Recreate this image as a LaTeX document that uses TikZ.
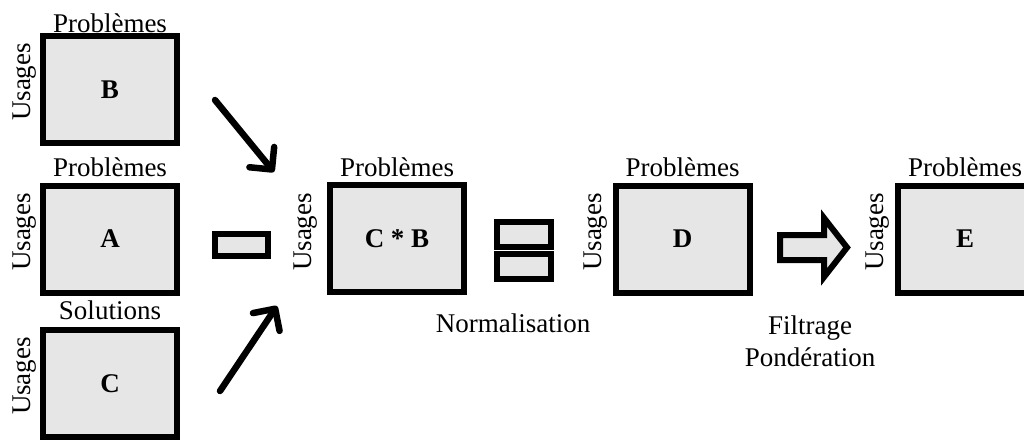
\documentclass[tikz,border=0pt]{standalone}
\usepackage{fontspec}
\setmainfont{Liberation Serif}
\usetikzlibrary{arrows.meta}
\definecolor{boxgray}{RGB}{230,230,230}
\tikzset{
  mbox/.style={draw=black, fill=boxgray, line width=6pt, inner sep=0pt, outer sep=0pt,
    minimum width=134pt, minimum height=107pt, font=\fontsize{27}{30}\selectfont\bfseries},
  sbox/.style={draw=black, fill=boxgray, line width=6pt, inner sep=0pt, outer sep=0pt},
  lbl/.style={inner sep=0pt, font=\fontsize{27}{32}\selectfont},
  usg/.style={lbl, rotate=90},
  thinarrow/.style={line width=6.5pt, line cap=round, -{Straight Barb[length=16pt, width=32pt, line cap=round, line join=round]}},
}
\begin{document}
\begin{tikzpicture}[x=1pt,y=-1pt]
\useasboundingbox (0,0) rectangle (1024,439);
\clip (0,0) rectangle (1024,439);
% left column
\node[mbox] (B) at (110,89.5) {B};
\node[lbl, anchor=base] (pB) at (110,32) {Problèmes};
\node[usg] (uB) at (25,82) {Usages};
\node[mbox] (A) at (110,239) {A};
\node[lbl, anchor=base] (pA) at (110,176) {Problèmes};
\node[usg] (uA) at (25,232) {Usages};
\node[mbox] (C) at (110,383.5) {C};
\node[lbl, anchor=base] (sC) at (110,319) {Solutions};
\node[usg] (uC) at (25,376) {Usages};
% minus sign
\node[sbox, minimum width=53pt, minimum height=22pt] (minus) at (241.5,245) {};
% arrows
\coordinate (a1s) at (215,100);
\coordinate (a1e) at (274,172);
\draw[thinarrow] (a1s) -- (a1e);
\coordinate (a2s) at (220,391);
\coordinate (a2e) at (277,306);
\draw[thinarrow] (a2s) -- (a2e);
% C*B
\node[mbox] (CB) at (397,238.5) {C * B};
\node[lbl, anchor=base] (pCB) at (397,176) {Problèmes};
\node[usg] (uCB) at (306,232) {Usages};
% equals
\node[sbox, minimum width=54pt, minimum height=25pt] (eq1) at (524,234.5) {};
\node[sbox, minimum width=54pt, minimum height=25pt] (eq2) at (524,266.5) {};
\node[lbl, anchor=base] (norm) at (513,332) {Normalisation};
% D
\node[mbox] (D) at (682.5,239) {D};
\node[lbl, anchor=base] (pD) at (682.5,176) {Problèmes};
\node[usg] (uD) at (596,232) {Usages};
% block arrow
\draw[fill=boxgray, line width=6pt, line join=miter, miter limit=10]
  (780,235) -- (824,235) -- (824,218) -- (847,247.5) -- (824,277) -- (824,260) -- (780,260) -- cycle;
\node[lbl, anchor=base] (filt) at (810,334) {Filtrage};
\node[lbl, anchor=base] (pond) at (810,366) {Pondération};
% E
\node[mbox] (E) at (965,239) {E};
\node[lbl, anchor=base] (pE) at (965,176) {Problèmes};
\node[usg] (uE) at (878,232) {Usages};
\end{tikzpicture}
\end{document}
